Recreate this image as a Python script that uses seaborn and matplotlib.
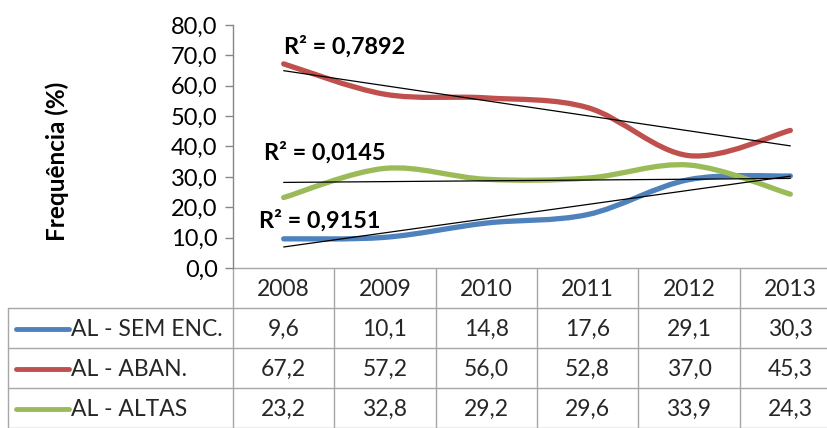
import numpy as np
import seaborn as sns
import matplotlib
import matplotlib.pyplot as plt
from matplotlib.path import Path
from matplotlib.patches import PathPatch
from matplotlib.transforms import blended_transform_factory

matplotlib.use('agg')

# chart data
years = ['2008', '2009', '2010', '2011', '2012', '2013']
series_names = ['AL - SEM ENC.', 'AL - ABAN.', 'AL - ALTAS']
sem_enc = [9.6, 10.1, 14.8, 17.6, 29.1, 30.3]
aban = [67.2, 57.2, 56.0, 52.8, 37.0, 45.3]
altas = [23.2, 32.8, 29.2, 29.6, 33.9, 24.3]
r2_labels = ['R² = 0,9151', 'R² = 0,7892', 'R² = 0,0145']

colors = ['#4F81BD', '#C0504D', '#9BBB59']
grid_col = '#A6A6A6'
axis_col = '#868686'


def smooth_path(xs, ys):
    """Excel-like smoothed line: cubic bezier segments through the points."""
    pts = np.column_stack([xs, ys]).astype(float)
    n = len(pts)
    verts = [pts[0]]
    codes = [Path.MOVETO]
    for i in range(n - 1):
        p0 = pts[i - 1] if i > 0 else pts[i]
        p1, p2 = pts[i], pts[i + 1]
        p3 = pts[i + 2] if i + 2 < n else pts[i + 1]
        verts += [p1 + (p2 - p0) / 6, p2 - (p3 - p1) / 6, p2]
        codes += [Path.CURVE4] * 3
    return Path(verts, codes)


def fmt(v):
    return f'{v:.1f}'.replace('.', ',')


sns.set_theme(style='white')
plt.rcParams['font.family'] = ['Lato', 'DejaVu Sans']

W, H = 827, 428
fig = plt.figure(figsize=(W / 100, H / 100), dpi=100, facecolor='white')

# overlay in pixel coordinates for the data table
tab = fig.add_axes([0, 0, 1, 1])
tab.set_xlim(0, W)
tab.set_ylim(H, 0)
tab.axis('off')

ax = fig.add_axes([233 / W, 1 - 268 / H, 608 / W, (268 - 25) / H])
ax.set_facecolor('none')
x_idx = np.arange(len(years))
all_series = [sem_enc, aban, altas]

for vals, col in zip(all_series, colors):
    ax.add_patch(PathPatch(smooth_path(x_idx, vals), fill=False,
                           edgecolor=col, lw=3.8, capstyle='round', zorder=2))
    sns.regplot(x=x_idx, y=np.array(vals), ax=ax, scatter=False, ci=None,
                truncate=True, color='black', line_kws={'lw': 0.9, 'zorder': 3})

ax.set_xlim(-0.5, 5.5)
ax.set_ylim(0, 80)
ax.set_xticks([])
ax.set_yticks(np.arange(0, 81, 10))
ax.set_yticklabels([fmt(v) for v in np.arange(0, 81, 10)])
ax.tick_params(axis='y', left=True, length=6, width=1, color=axis_col,
               labelsize=17, pad=5, labelcolor='black')
for s in ['top', 'right', 'bottom']:
    ax.spines[s].set_visible(False)
ax.spines['left'].set_color(axis_col)
ax.spines['left'].set_linewidth(1)
ax.set_xlabel('')
ax.set_ylabel('Frequência (%)', fontsize=17.5, fontweight='bold', color='black')
ax.yaxis.set_label_coords(-0.27, 0.44)

# R² labels
r2_pos = [(-0.24, 15.5), (0.0, 72.8), (-0.19, 37.9)]
for lab, (px, py) in zip(r2_labels, r2_pos):
    ax.text(px, py, lab, fontsize=16.8, fontweight='bold', ha='left',
            va='center', color='black')

# data table
bt = blended_transform_factory(ax.transData, tab.transData)
row_y = [268, 308, 348, 388, 428]
edges = np.arange(len(years) + 1) - 0.5
for e in edges:
    tab.plot([e, e], [row_y[0], row_y[-1]], color=grid_col, lw=1,
             transform=bt, clip_on=False)
tab.plot([8, 8], [row_y[1], row_y[-1]], color=grid_col, lw=1)
tab.plot([233, W], [row_y[0], row_y[0]], color=grid_col, lw=1)
for y in row_y[1:]:
    tab.plot([8, W], [y, y], color=grid_col, lw=1)

for j, yr in enumerate(years):
    tab.text(j, (row_y[0] + row_y[1]) / 2 + 1, yr, transform=bt, ha='center',
             va='center', fontsize=16.5)

for i, (name, vals, col) in enumerate(zip(series_names, all_series, colors)):
    yc = (row_y[i + 1] + row_y[i + 2]) / 2 + 1
    tab.plot([16, 69], [yc, yc], color=col, lw=3.5, solid_capstyle='round')
    tab.text(71, yc, name, ha='left', va='center', fontsize=16.5)
    for j, v in enumerate(vals):
        tab.text(j, yc, fmt(v), transform=bt, ha='center', va='center',
                 fontsize=16.5)

fig.savefig('out.png', dpi=100, facecolor='white')
